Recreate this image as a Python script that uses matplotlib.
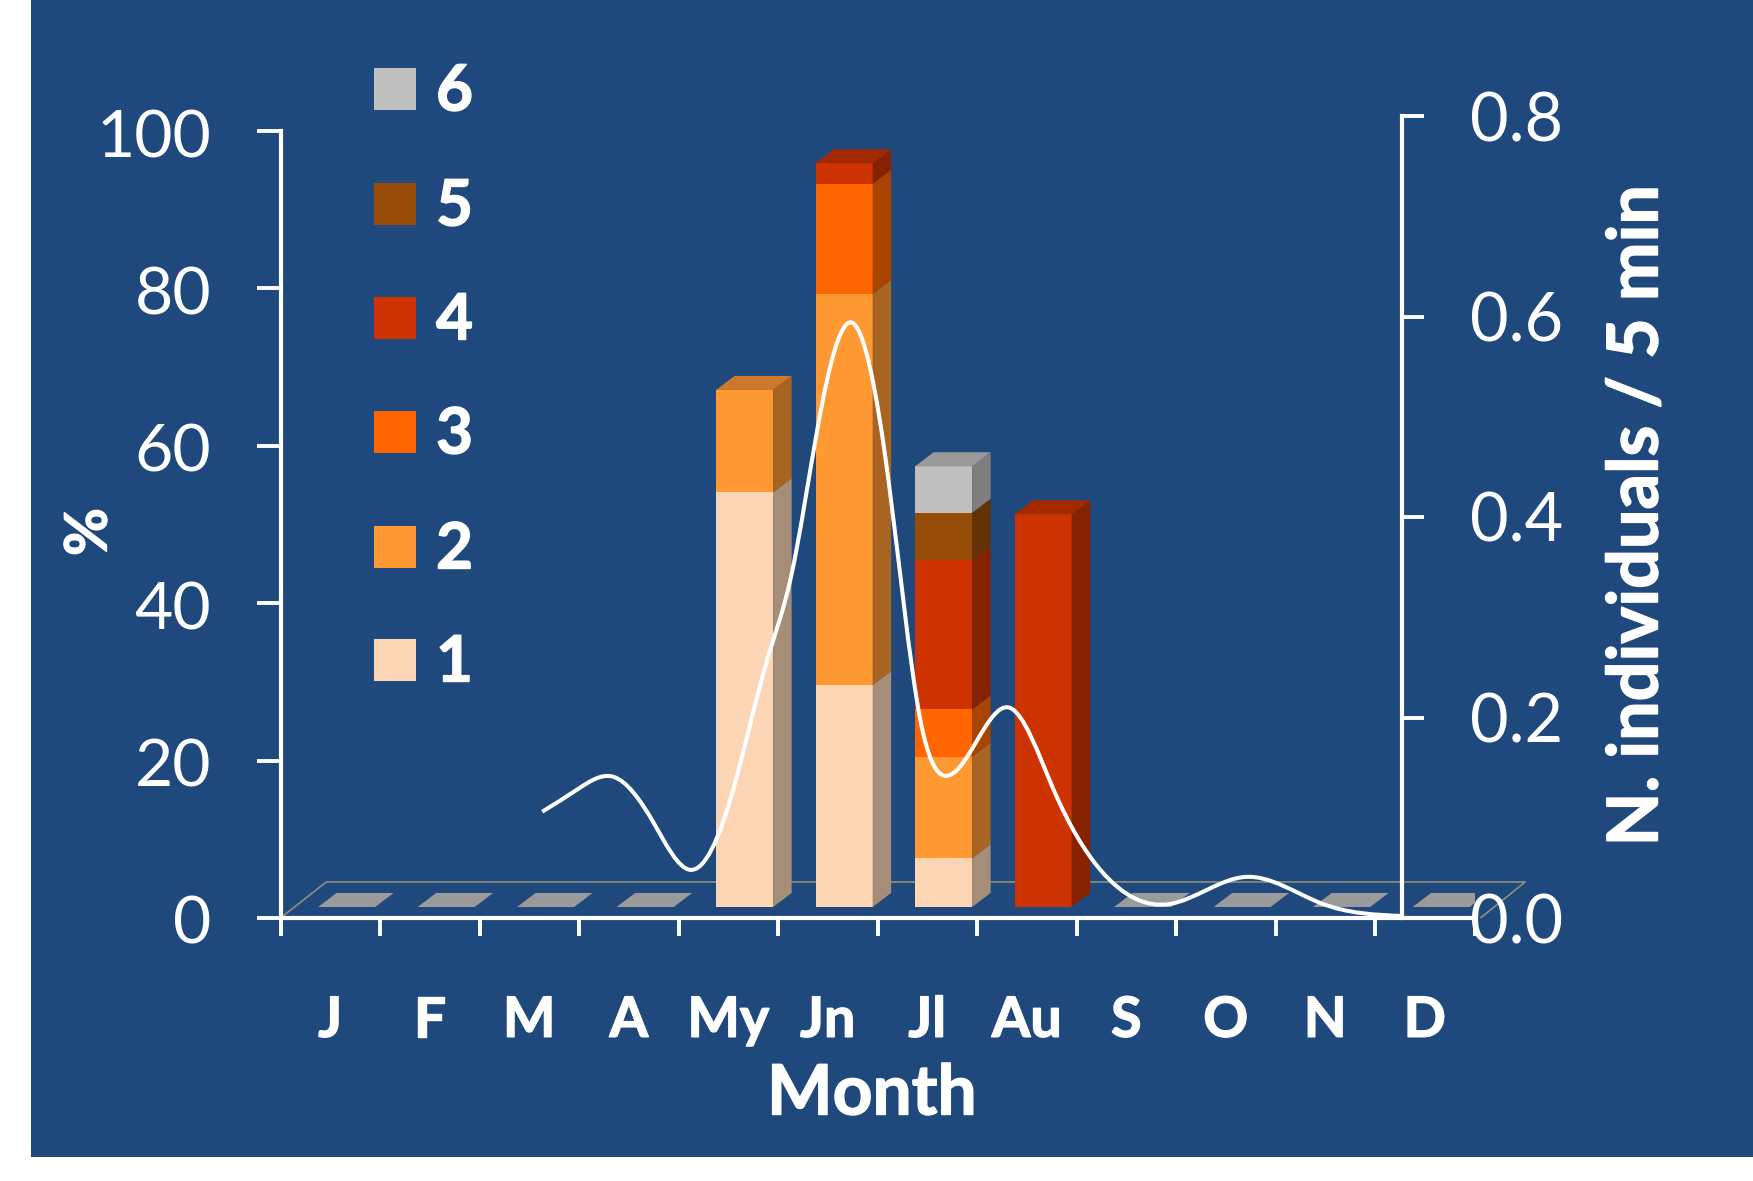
import numpy as np
import matplotlib
matplotlib.use("Agg")
import matplotlib.pyplot as plt
import matplotlib.patheffects as pe
from matplotlib.patches import Polygon, Rectangle, PathPatch
from matplotlib.path import Path
from matplotlib.transforms import Affine2D

plt.rcParams['font.family'] = ['Lato', 'DejaVu Sans']

W, H = 1753, 1181
BG = '#1F497D'

months = ['J', 'F', 'M', 'A', 'My', 'Jn', 'Jl', 'Au', 'S', 'O', 'N', 'D']
classes = ['1', '2', '3', '4', '5', '6']
class_colors = ['#FCD5B5', '#FF9933', '#FF6600', '#CC3300', '#964B06', '#C0C0C0']

# share of each class per month (%)
class_1 = [0, 0, 0, 0, 52.7, 28.2, 6.2, 0, 0, 0, 0, 0]
class_2 = [0, 0, 0, 0, 13.0, 49.7, 12.9, 0, 0, 0, 0, 0]
class_3 = [0, 0, 0, 0, 0, 14.0, 6.0, 0, 0, 0, 0, 0]
class_4 = [0, 0, 0, 0, 0, 2.6, 19.0, 49.9, 0, 0, 0, 0]
class_5 = [0, 0, 0, 0, 0, 0, 6.0, 0, 0, 0, 0, 0]
class_6 = [0, 0, 0, 0, 0, 0, 5.9, 0, 0, 0, 0, 0]
stack = [class_1, class_2, class_3, class_4, class_5, class_6]

# abundance curve, x in month units from the start of January
line_x = [2.63, 2.98, 3.34, 3.75, 4.12, 4.55, 4.89, 5.13, 5.40, 5.74, 6.11,
          6.43, 6.67, 7.32, 7.77, 8.24, 8.94, 9.70, 10.45, 11.27]
line_y = [.106, .128, .141, .095, .048, .128, .257, .340, .490, .594, .437,
          .198, .142, .210, .128, .048, .014, .041, .015, .002]

# fake 3D geometry
MONTH_PX = 99.5
PCT_PX = 7.86
BAR_LEFT = 0.378
BAR_W = 0.573
DX = 18.5 / MONTH_PX
DY = 14 / PCT_PX

heavy = [pe.withStroke(linewidth=1.0, foreground='white')]


def frac_box(x0, y0, x1, y1):
    return [x0 / W, 1 - y1 / H, (x1 - x0) / W, (y1 - y0) / H]


def shade(color, k):
    return tuple(c * k for c in matplotlib.colors.to_rgb(color))


def smooth_path(xs, ys):
    # natural cubic spline through the points, written out as bezier segments
    xs = np.asarray(xs)
    ys = np.asarray(ys)
    n = len(xs)
    h = np.diff(xs)
    d = np.diff(ys) / h
    a = np.zeros((n, n))
    b = np.zeros(n)
    a[0, 0], a[0, 1], b[0] = 2, 1, 3 * d[0]
    a[-1, -2], a[-1, -1], b[-1] = 1, 2, 3 * d[-1]
    for i in range(1, n - 1):
        a[i, i - 1] = h[i]
        a[i, i] = 2 * (h[i - 1] + h[i])
        a[i, i + 1] = h[i - 1]
        b[i] = 3 * (h[i] * d[i - 1] + h[i - 1] * d[i])
    slope = np.linalg.solve(a, b)
    verts = [(xs[0], ys[0])]
    codes = [Path.MOVETO]
    for i in range(n - 1):
        step = h[i] / 3
        verts += [(xs[i] + step, ys[i] + slope[i] * step),
                  (xs[i + 1] - step, ys[i + 1] - slope[i + 1] * step),
                  (xs[i + 1], ys[i + 1])]
        codes += [Path.CURVE4] * 3
    return Path(verts, codes)


fig = plt.figure(figsize=(W / 100, H / 100), dpi=100, facecolor='white')
fig.add_artist(Rectangle((31 / W, 1 - 1157 / H), 1 - 31 / W, 1157 / H, transform=fig.transFigure,
                         facecolor=BG, edgecolor='none', zorder=-5))

ax = fig.add_axes(frac_box(280.5, 131, 280.5 + 12 * MONTH_PX, 918))
ax.patch.set_alpha(0)
ax.set_xlim(0, 12)
ax.set_ylim(0, 100)
for s in ['top', 'right']:
    ax.spines[s].set_visible(False)
for s in ['left', 'bottom']:
    ax.spines[s].set_color('white')
    ax.spines[s].set_linewidth(3)
ax.set_yticks(range(0, 101, 20))
ax.tick_params(axis='y', length=17, width=2.8, color='white', labelcolor='white', labelsize=47.5, pad=33)
ax.set_xticks(range(13))
ax.set_xticklabels([])
ax.tick_params(axis='x', which='major', length=13, width=2.8, color='white', direction='out')
ax.set_xticks(np.arange(12) + 0.5, minor=True)
ax.set_xticklabels(months, minor=True, fontweight='bold', fontsize=40, path_effects=heavy)
ax.tick_params(axis='x', which='minor', length=0, labelcolor='white', pad=56)

# floor of the 3D plot
floor = Polygon([(0, 0), (0.46, 4.58), (12.51, 4.58), (12.06, 0)], closed=False, fill=False,
                edgecolor='#8F8C7E', linewidth=1.2, zorder=1, clip_on=False)
ax.add_patch(floor)

# bars sit a little behind the axis line
to_front = ax.transData + Affine2D().translate(0, 11)
for i in range(12):
    x0 = i + BAR_LEFT
    x1 = x0 + BAR_W
    bottom = 0
    top_color = '#9A9A9A'
    for vals, col in zip(stack, class_colors):
        v = vals[i]
        if v <= 0:
            continue
        ax.bar(x0, v, BAR_W, bottom=bottom, align='edge', color=col, edgecolor='none', zorder=3,
               transform=to_front)
        side = [(x1, bottom), (x1 + DX, bottom + DY), (x1 + DX, bottom + v + DY), (x1, bottom + v)]
        ax.add_patch(Polygon(side, closed=True, facecolor=shade(col, 0.66), edgecolor='none', zorder=3,
                             transform=to_front))
        bottom += v
        top_color = shade(col, 0.8)
    lid = [(x0, bottom), (x1, bottom), (x1 + DX, bottom + DY), (x0 + DX, bottom + DY)]
    ax.add_patch(Polygon(lid, closed=True, facecolor=top_color, edgecolor='none', zorder=3.5,
                         transform=to_front))

# second scale for the abundance curve
ax2 = fig.add_axes(frac_box(280.5, 116, 280.5 + 12 * MONTH_PX, 918))
ax2.patch.set_alpha(0)
ax2.set_xlim(0, 12)
ax2.set_ylim(0, 0.8)
ax2.set_xticks([])
for s in ['top', 'left', 'bottom']:
    ax2.spines[s].set_visible(False)
ax2.spines['right'].set_position(('data', 11.27))
ax2.spines['right'].set_color('white')
ax2.spines['right'].set_linewidth(3)
ax2.yaxis.tick_right()
ax2.set_yticks([0, 0.2, 0.4, 0.6, 0.8])
ax2.set_yticklabels(['0.0', '0.2', '0.4', '0.6', '0.8'])
ax2.tick_params(axis='y', length=16, width=2.8, color='white', labelcolor='white', labelsize=48, pad=33)
ax2.add_patch(PathPatch(smooth_path(line_x, line_y), fill=False, edgecolor='white', linewidth=2.9,
                        zorder=5, capstyle='butt'))

# nudge the left scale numbers down a touch
for lab in ax.get_yticklabels():
    lab.set_transform(lab.get_transform() + Affine2D().translate(0, -2))

# axis titles
fig.text(872 / W, 1 - 1095 / H, 'Month', color='white', fontsize=50, fontweight='bold',
         ha='center', va='center', path_effects=heavy)
fig.text(90 / W, 1 - 532 / H, '%', color='white', fontsize=42, fontweight='bold',
         rotation=90, ha='center', va='center', path_effects=heavy)
fig.text(1637 / W, 1 - 516 / H, 'N. individuals / 5 min', color='white', fontsize=50.5, fontweight='bold',
         rotation=90, ha='center', va='center', path_effects=heavy)

# legend, highest class first
legend_y = [660, 547, 432, 318, 204, 89]
for name, col, yc in zip(classes, class_colors, legend_y):
    fig.add_artist(Rectangle((374 / W, 1 - (yc + 21) / H), 42 / W, 42 / H, transform=fig.transFigure,
                             facecolor=col, edgecolor='none'))
    fig.text(436 / W, 1 - (yc + 3) / H, name, color='white', fontsize=46, fontweight='bold',
             ha='left', va='center', path_effects=heavy)

fig.savefig('out.png', dpi=100, facecolor=fig.get_facecolor())
